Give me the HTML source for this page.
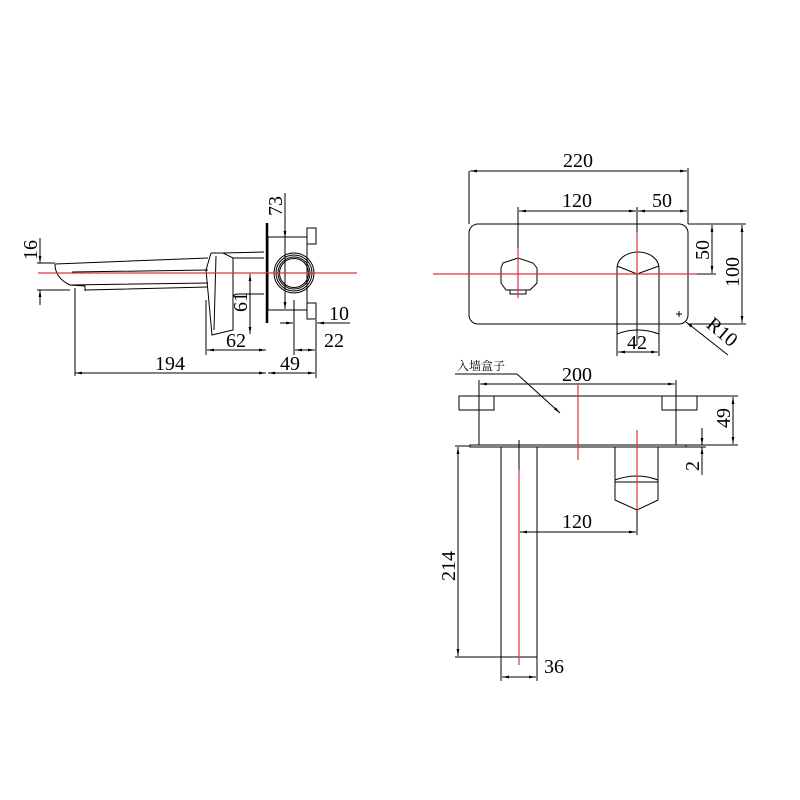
<!DOCTYPE html>
<html><head><meta charset="utf-8"><style>
html,body{margin:0;padding:0;background:#fff;width:800px;height:800px;overflow:hidden}
text{font-family:"Liberation Serif","Noto Serif CJK SC",serif;font-size:20px;fill:#000;text-anchor:middle}
</style></head><body>
<svg width="800" height="800" viewBox="0 0 800 800" xmlns="http://www.w3.org/2000/svg">
<defs>
<marker id="a" viewBox="0 0 10 10" refX="10" refY="5" markerWidth="7" markerHeight="7" orient="auto-start-reverse"><path d="M0,3 L10,5 L0,7 z" fill="#000"/></marker>
</defs>
<g fill="none" stroke="#000" stroke-width="1">
<!-- LEFT VIEW -->
<path d="M55,264 L208,258 M55,264 Q55,278 70,285 L208,283 M70,285 L85,286 L85,291 M85,290 L208,287 M72,272 L208,270"/>
<path d="M211,253 L223,253 L233,258 L264,258 M223,253 L264,252 M211,253 L206,270 L212,335 L233,330 L233,298 Q233,294 238,294 L264,294 M233,258 L233,300 M216,256 L214,330"/>
<line x1="267" y1="223" x2="267" y2="323" stroke-width="2.5"/>
<rect x="268" y="237" width="39" height="73"/>
<rect x="307" y="228" width="9" height="16"/><rect x="307" y="303" width="9" height="16"/>
<circle cx="294" cy="273" r="20"/><circle cx="294" cy="273" r="18"/><circle cx="294" cy="273" r="16"/><circle cx="294" cy="273" r="14.5"/>
<line x1="75" y1="288" x2="75" y2="376"/><line x1="206" y1="300" x2="206" y2="355"/>
<line x1="316" y1="320" x2="316" y2="378"/><line x1="294" y1="300" x2="294" y2="355"/>
<line x1="75" y1="373" x2="266" y2="373" marker-start="url(#a)" marker-end="url(#a)"/>
<line x1="268" y1="373" x2="315" y2="373" marker-start="url(#a)" marker-end="url(#a)"/>
<line x1="207" y1="350" x2="266" y2="350" marker-start="url(#a)" marker-end="url(#a)"/>
<line x1="295" y1="350" x2="315" y2="350" marker-start="url(#a)" marker-end="url(#a)"/>
<line x1="280" y1="323" x2="293" y2="323" marker-end="url(#a)"/><line x1="350" y1="323" x2="317" y2="323" marker-end="url(#a)"/>
<line x1="250" y1="274" x2="250" y2="334" marker-start="url(#a)" marker-end="url(#a)"/>
<line x1="285" y1="193" x2="285" y2="238" marker-end="url(#a)"/><line x1="285" y1="238" x2="285" y2="309" marker-end="url(#a)"/>
<line x1="40" y1="238" x2="40" y2="263" marker-end="url(#a)"/><line x1="40" y1="305" x2="40" y2="290" marker-end="url(#a)"/>
<line x1="37" y1="263" x2="55" y2="263"/><line x1="37" y1="290" x2="70" y2="290"/>
<!-- TOP RIGHT -->
<rect x="469" y="224" width="219" height="100" rx="9"/>
<path d="M503,263 L518,258 L533,263 L537,268 L537,283 L530,290 L506,290 L501,283 L501,268 Z M510,290 L510,294 L526,294 L526,290"/>
<path d="M617,334 L617,268 A21,16 0 0 1 659,268 L659,334 Q638,326 617,334 M617,266 L637,274 L659,266"/>
<line x1="469" y1="171" x2="469" y2="224"/><line x1="688" y1="168" x2="688" y2="224"/>
<line x1="518" y1="207" x2="518" y2="250"/><line x1="637" y1="207" x2="637" y2="250"/><line x1="637" y1="274" x2="637" y2="345"/>
<line x1="470" y1="171" x2="687" y2="171" marker-start="url(#a)" marker-end="url(#a)"/>
<line x1="519" y1="211" x2="636" y2="211" marker-start="url(#a)" marker-end="url(#a)"/>
<line x1="638" y1="211" x2="687" y2="211" marker-start="url(#a)" marker-end="url(#a)"/>
<line x1="688" y1="224" x2="746" y2="224"/><line x1="697" y1="274" x2="716" y2="274"/><line x1="688" y1="324" x2="746" y2="324"/>
<line x1="712" y1="225" x2="712" y2="273" marker-start="url(#a)" marker-end="url(#a)"/>
<line x1="742" y1="225" x2="742" y2="323" marker-start="url(#a)" marker-end="url(#a)"/>
<line x1="617" y1="334" x2="617" y2="356"/><line x1="659" y1="334" x2="659" y2="356"/>
<line x1="618" y1="352" x2="658" y2="352" marker-start="url(#a)" marker-end="url(#a)"/>
<line x1="728" y1="355" x2="686" y2="322" marker-end="url(#a)"/>
<path d="M676,314 L682,314 M679,311 L679,317"/>
<!-- BOTTOM -->
<rect x="479" y="396" width="197" height="49"/>
<rect x="459" y="396" width="35" height="14"/><rect x="662" y="396" width="35" height="14"/>
<rect x="470" y="445" width="216" height="2"/>
<rect x="501" y="447" width="36" height="210"/>
<path d="M615,447 L615,500 L637,510 L658,500 L658,447 M615,480 Q637,472 658,480 M615,482 L658,482"/>
<line x1="455" y1="374" x2="517" y2="374"/><line x1="517" y1="374" x2="560" y2="413" marker-end="url(#a)"/>
<line x1="479" y1="380" x2="479" y2="396"/><line x1="676" y1="380" x2="676" y2="396"/>
<line x1="480" y1="384" x2="675" y2="384" marker-start="url(#a)" marker-end="url(#a)"/>
<line x1="697" y1="396" x2="738" y2="396"/><line x1="686" y1="445" x2="738" y2="445"/><line x1="686" y1="447" x2="706" y2="447"/>
<line x1="733" y1="397" x2="733" y2="444" marker-start="url(#a)" marker-end="url(#a)"/>
<line x1="702" y1="428" x2="702" y2="445" marker-end="url(#a)"/><line x1="702" y1="475" x2="702" y2="447" marker-end="url(#a)"/>
<line x1="455" y1="446" x2="470" y2="446"/><line x1="455" y1="657" x2="501" y2="657"/>
<line x1="458" y1="447" x2="458" y2="656" marker-start="url(#a)" marker-end="url(#a)"/>
<line x1="501" y1="657" x2="501" y2="681"/><line x1="537" y1="657" x2="537" y2="681"/>
<line x1="502" y1="677" x2="536" y2="677" marker-start="url(#a)" marker-end="url(#a)"/>
<line x1="520" y1="532" x2="636" y2="532" marker-start="url(#a)" marker-end="url(#a)"/>
<line x1="637" y1="505" x2="637" y2="535"/>
<line x1="519" y1="440" x2="519" y2="635"/>
</g>
<g stroke="#e0323c" stroke-width="1.2">
<line x1="38" y1="273" x2="357" y2="273"/>
<line x1="433" y1="274" x2="697" y2="274"/>
<line x1="518" y1="248" x2="518" y2="298"/><line x1="637" y1="232" x2="637" y2="274"/>
<line x1="578" y1="383" x2="578" y2="460"/>
<line x1="519" y1="470" x2="519" y2="665"/>
<line x1="637" y1="430" x2="637" y2="510"/>
</g>
<text x="578" y="167">220</text>
<text x="577" y="207">120</text>
<text x="662" y="207">50</text>
<text x="577" y="381">200</text>
<text x="577" y="528">120</text>
<text x="554" y="673">36</text>
<text x="170" y="370">194</text>
<text x="290" y="370">49</text>
<text x="236" y="347">62</text>
<text x="334" y="347">22</text>
<text x="339" y="320">10</text>
<text x="637" y="349">42</text>
<text x="481" y="370" style="font-size:12px">入墙盒子</text>
<text transform="translate(37,250) rotate(-90)">16</text>
<text transform="translate(282,206) rotate(-90)">73</text>
<text transform="translate(247,302) rotate(-90)">61</text>
<text transform="translate(709,250) rotate(-90)">50</text>
<text transform="translate(739,272) rotate(-90)">100</text>
<text transform="translate(730,418) rotate(-90)">49</text>
<text transform="translate(699,466) rotate(-90)">2</text>
<text transform="translate(455,566) rotate(-90)">214</text>
<text transform="translate(718,337) rotate(40)">R10</text>
</svg>
</body></html>
